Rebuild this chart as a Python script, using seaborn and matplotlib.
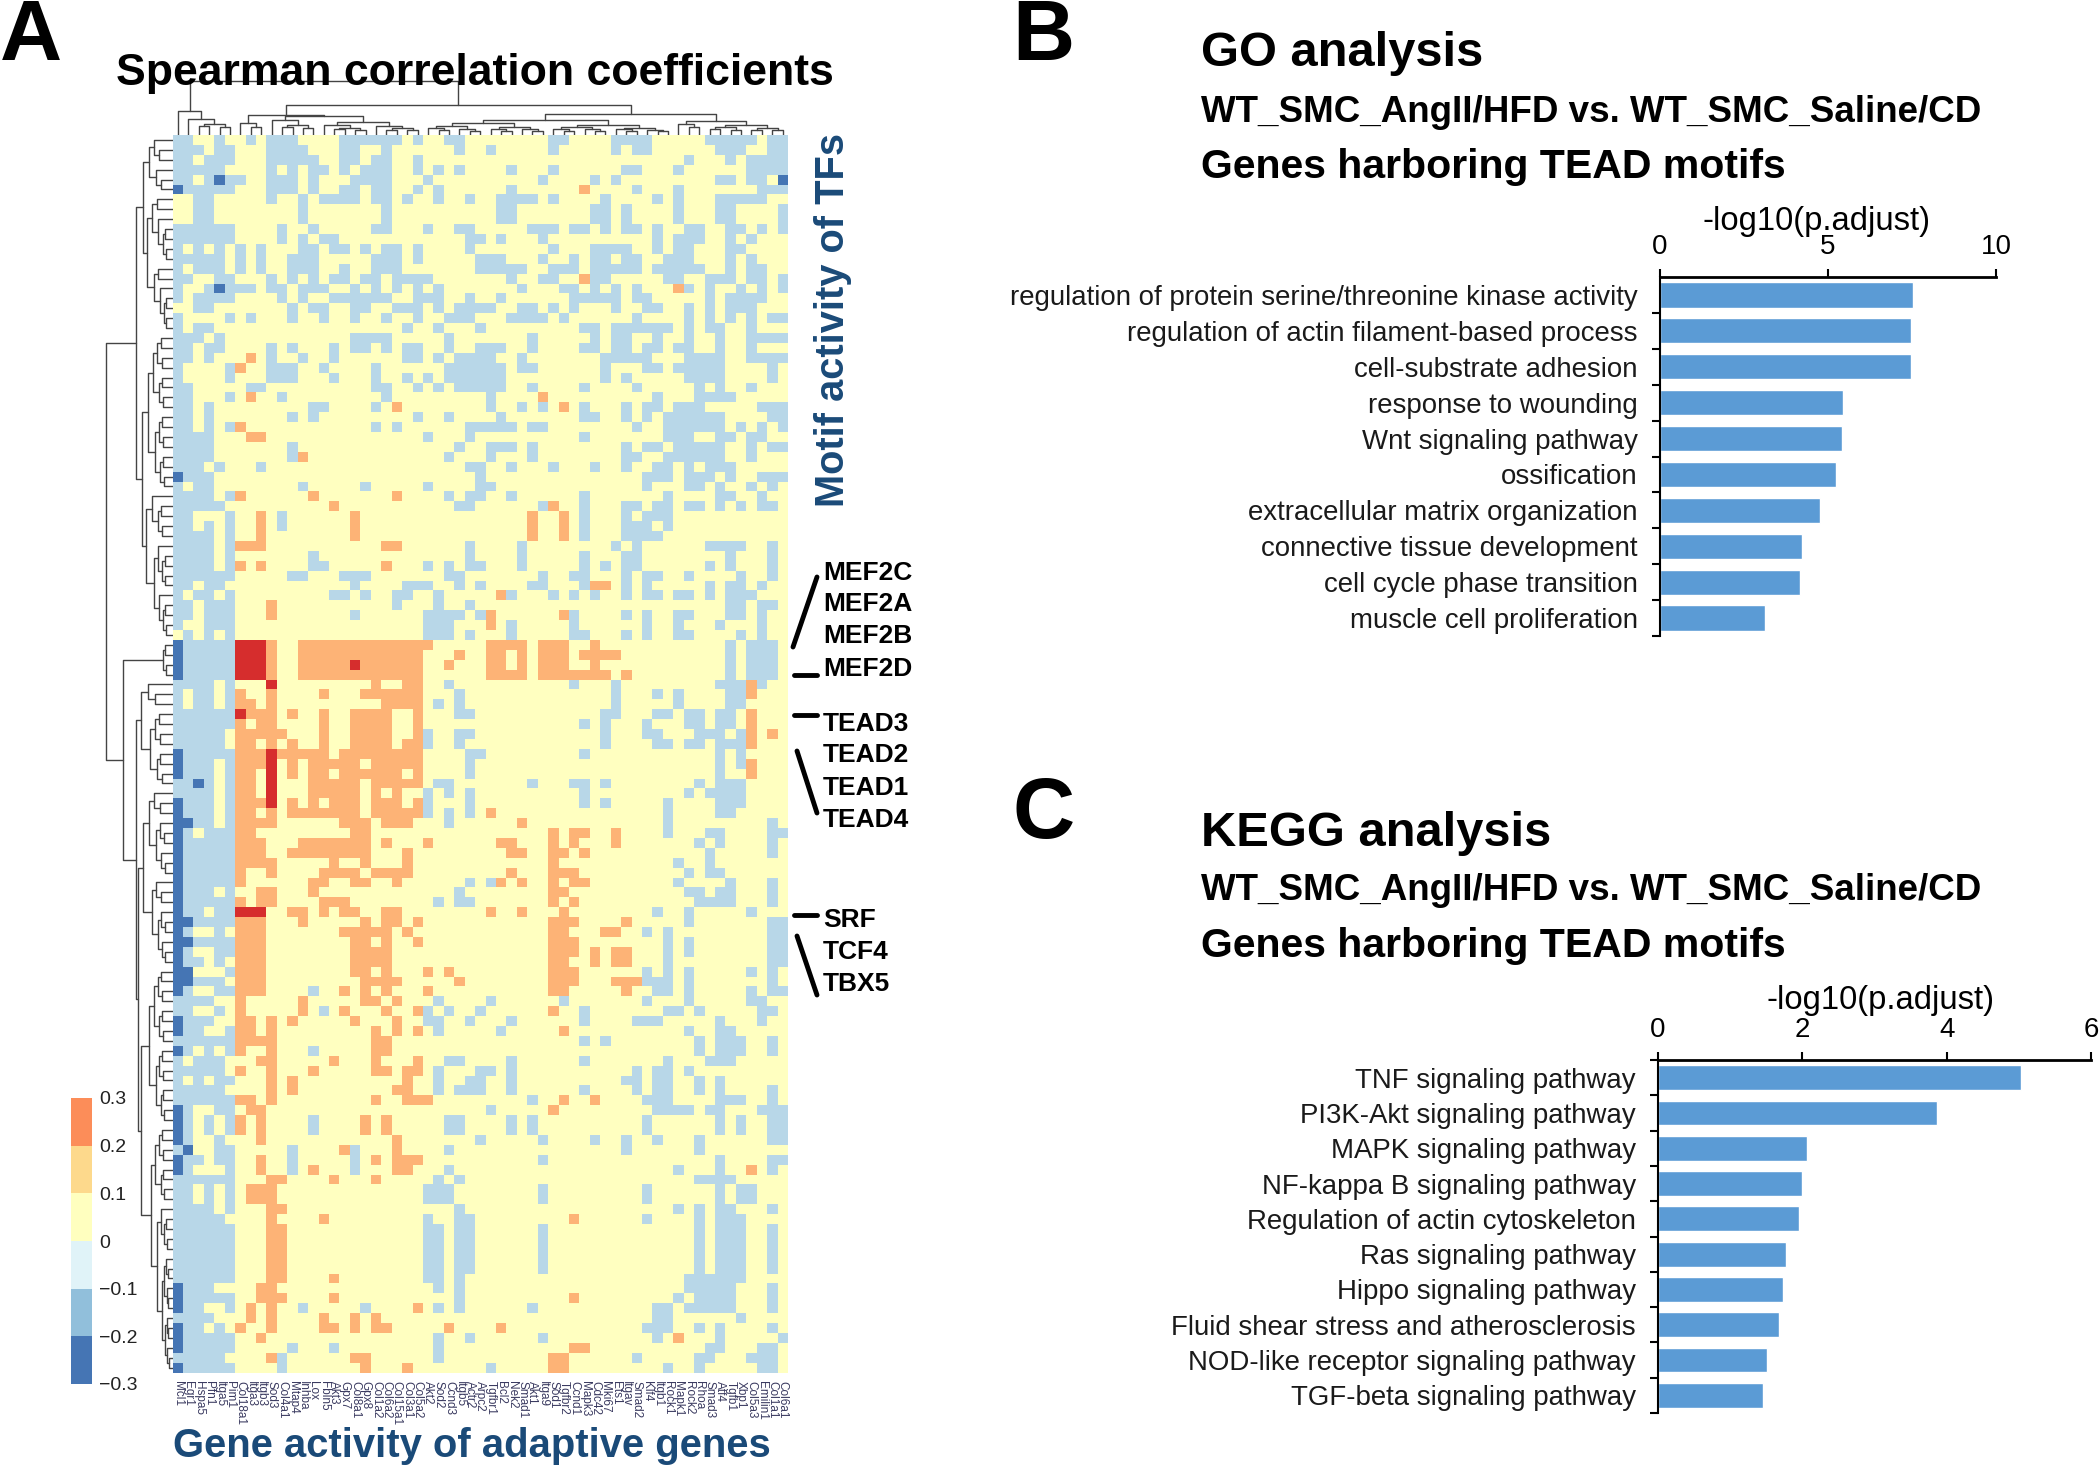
import numpy as np
import pandas as pd
import seaborn as sns
import matplotlib.pyplot as plt
from matplotlib.colors import ListedColormap, BoundaryNorm

# 1. Data
genes = ['Mcl1', 'Egr1', 'Hspa5', 'Pfn1', 'Itga5', 'Pim1', 'Col18a1', 'Itga3', 'Itgb3', 'Sod3',
         'Col4a1', 'Mtap4', 'Inhba', 'Lox', 'Fbln5', 'Akt3', 'Gpx7', 'Col8a1', 'Gpx8', 'Col1a2',
         'Col6a2', 'Col15a1', 'Col3a1', 'Col5a2', 'Akt2', 'Sod2', 'Ccnd3', 'Itgb5', 'Actr2', 'Arpc2',
         'Tgfbr1', 'Bcl2', 'Nek2', 'Smad1', 'Akt1', 'Itga9', 'Sod1', 'Tgfbr2', 'Ccnd1', 'Mapk3',
         'Cdc42', 'Mki67', 'Ets1', 'Itgav', 'Smad2', 'Klf4', 'Itgb1', 'Rock1', 'Mapk1', 'Rock2',
         'Rhoa', 'Smad3', 'Atf4', 'Tgfb1', 'Xbp1', 'Col5a3', 'Emilin1', 'Col1a1', 'Col6a1']

# each row lists the columns that are not in the 0-0.1 class
# b: -0.1-0, d: below -0.1, o: 0.1-0.2, r: above 0.2
heat_rows = [
    'b0-1,4,7,9-11,16-21,23,26-27,36-37,42-45,51-55,57-58',
    'b0-2,4-5,9-12,16-17,20,27,30,36,42,44-45,52-54,57-58',
    'b0-1,3-5,9-13,16-17,19-20,23,49,53,55-58',
    'b0-4,9,11,13-14,16,18-20,23,25,27,32,36,43-44,48,55-58',
    'b0-1,3,5-6,9-11,13,17-20,24,35,40,42,52-53,55-56 d4,58',
    'd0 b1-5,9-11,13,16-17,19-20,23,25,32,44,48,56-58 o39',
    'b2-3,9,12,14-17,19-20,22,25,28,31-34,36,41,46,48,52-56',
    'b2-3,12,20,31-32,40-41,43,48,52-53,58',
    'b2-3,12,20,31-32,40-41,43,48,52-53,58',
    'b0-5,10,13,19-20,24,27-28,34-36,38-39,41,43-44,46,49-50,53-54,56,58',
    'b0-5,10,12,14-15,28-29,31,35,46,48-50,53,55',
    'b0,2,4,6,8,12-13,15-16,18,20-21,23,28,36,40-43,46,48-49,53-54',
    'b0-4,6,8,11-13,19-21,23,29-31,35,38,40-41,43-44,47-49,53,55',
    'b0,2-4,6,8,11-13,16,19-21,29-33,36-38,40-44,46-50,53,55-56',
    'b0-1,4-5,9,11,13,15-16,18-19,21-24,32,35-36,40-41,47-48,51-53,55-56,58 o39',
    'b0,3,5-7,9-10,12-14,17,19,21,23,25,33,37-38,40,42,44,49,51,54,56,58 d4 o48',
    'b0,2-5,10,12,15-20,23-25,28,31,38-42,44-45,51,53-56',
    'b2-3,11,13-14,17-18,21-23,25,27-30,33-34,36,38,42,45-46,49,51,53-55',
    'b0,5,7,11,14,17,20,23,26-28,32-35,37,44,49,51,53,55,57-58',
    'b0,2-3,22,25,29,39-40,42-47,49,51-52,55',
    'b0-2,4,17-20,26,34,40,42-43,46,49,52,55-58',
    'b0-1,3-4,9,11,15,17-18,20,22-23,26,29-31,34,39-40,42-43,45-46,48-49,52,55',
    'b0-1,3,9,12,15,22-23,25,27-30,33,41-45,49-52,55-58 o7',
    'b0,5,9-11,14,19,26-31,33-34,41,45-46,48-52,57 o6',
    'b0,5,9-11,15,19,22,24,26-31,41,43,49-52,57',
    'b0-1,7-8,19-20,23,25,27-31,34,39,44,50,52,55',
    'b0-1,5,10,20,30,46,50-53 o7,35',
    'b0-1,3,13-14,19,30,33,35,39,43,45-46,48-50,56-58 o21,37',
    'b0-1,3,11,13,23,26,31,39-40,43,45,47-52,57-58',
    'b0-1,3,5,19,21,28-32,34-35,44,47-52,54,56,58 o6',
    'b0-3,24,28,39,47-49,52-53,55-56 o7-8',
    'b0-3,11,27,30-32,34,43,45-46,48-52,55,57-58',
    'b0-3,11,26,30,34,43-44,47-52,55 o12',
    'b0-2,4,8,28-29,32,36,40,43,46-47,49,51-53',
    'd0 b1-3,29,45-47,49-51,53,56-58',
    'b0,2-3,12,18,24,29-30,45,49-50,52,55,57',
    'b0-3,5,26,28-29,32,39,47,52-53,56 o6,13,21',
    'b0-4,27-28,35,39,43-44,46-47,49-50,52,54,56-57 o15,36',
    'b0-1,5,10,39,43,45-47 o8,17,34,37',
    'b0-1,3,5,10,39,43-45,47 o8,17,34,37',
    'b0-3,5,39,43-46 o8,17,34,37',
    'b0-3,5,28,33,42,44,51-54,57 o6-8,20-21',
    'b0-3,5,13,28,33,39,43-44,53,57',
    'b0-3,5,13-14,24,26,28-29,33,39,41,43-44,51,53,57 o6,8,20',
    'b0-5,11-12,16-18,26-27,35,38-39,43,45-46,49,54,57',
    'b0-1,3-4,17,22-24,27,29,34-35,39,43,45,51,53-54,56 o40-41',
    'b0,2-3,5,15-16,18,21-22,25,32,36,38,40,43,45-46,48-49,51,53-55 o31',
    'b0-1,3-5,21,25,28,53-54,56-57 o9',
    'b0-1,3-5,17,24-27,29,38,43,45,48-49,53-54,56 o9,30,37',
    'b0,3-5,24-26,32,38,45,48,52,56 o30',
    'b1,3,5,24-26,28,32,38-39,43,45,48-49,54,56',
    'd0 b1-5,53,55-57 r6-8 o9,12-24,30-33,35-37,40',
    'd0 b1-5,53,55-57 r6-8 o9,12-23,27,30-31,33,35-37,39-42',
    'd0 b1-5,53,55-57 r6-8,17 o9,12-16,18-23,26,30-31,33,35-37,40',
    'd0 b1-5,53,55-57 r6-8 o9,12-23,30-33,35-41,43',
    'b0-3,5,26,38,42,52-54,56 r9 o19,22-23,55',
    'b0,2-3,5,27,42,46,48,53-54 o6,9,14,18-23,55',
    'b0,2-3,5,25,27,42,48,53-54 o6-7,9,20-23',
    'b0-5,27-28,41-42,46-47,49-50,52-53 r6 o7-9,11,14,17-20,23,55',
    'b0-5,39,41,45,49-50,52-53 o6,8-9,14,17-20,23,55',
    'b0-4,24,27-28,41,45-46,50-52,54 o6-10,14,17-20,23,55,57',
    'b0-4,24,27,41,46-47,49-50,52-54 o6-7,9,11,14,17-20,22-23,55',
    'd0 b1-5,28-29,39,52,54 o6-8,10-14,16-23 r9',
    'd0 b1-3,5,28,52,54 o6-8,11,13-17,19-23,55 r9',
    'd0 b1-3,5,28,52 o6-7,11,13-14,16-21,23,55 r9',
    'b0-1,3,5,25-26,34,38-39,41,50,52-54 d2 o6-7,13-17,19-23 r9',
    'b0-3,5,24,26,28,39,49,51-54 o6-7,13-17,19,21 r9',
    'd0 b1-3,5,24,28,39,41,47,52-54 o6-8,11,13,15-17,19-21,23 r9',
    'd0 b1-3,5,24,26,28,47,52-53 o6-7,9,11-17,19-23,30',
    'd0-1 b2-3,5,26,47,57 o6-9,16-18,20-22,33',
    'd0 b1,3-5,47,51-52,57-58 o6-7,17-18,36,38-39,42',
    'd0 b1-5,50,52,57 o6-8,12-18,20,24,31-32,36,38,42',
    'd0 b1-5,51,57 o6-8,11-18,22,32-33,36-37,39',
    'd0 b1-5,48,51 o6-9,15,18,22,36',
    'd0 b1-5,49,51-52 o6,9,14-17,19-22,32,36-38',
    'd0 b1-5,28,30,48,53,57 o6,13-14,17-18,21,31,33,36,38-39',
    'd0 b1-3,5,27,49-50,52-53,57 o8-9,13,36-37',
    'd0 b1-5,25,27-28,50-53,57 o6,8-9,14-16,36,38',
    'd0 b1-2,4-5,46,49,55 r6-8 o11-12,14,16-17,20-21,30,33,37',
    'd0-1 b2-5,49,57-58 o6-8,12,18,20-21,23,36-38,43',
    'd0 b1,4,45,47,57-58 o6-8,16-20,22,36-37,41-42',
    'd0-1 b2-5,47,49,57-58 o6-8,17-18,20,23,36-38',
    'd0 b1,4-5,47,49,57-58 o6-8,17-20,36-38,40,42-43',
    'd0 b1-2,4,47,57-58 o6-8,17-20,36-37,40,42-43',
    'd0-1 b5,45,47,49,55,57 o6-8,17-18,20,24,26,36-38',
    'd0-1 b2-4,45-47,49,57 o6-8,18-21,27,36-38,42-44',
    'd0 b1,4-5,13,46-47,49,55,57-58 o6-8,16,18,20,24,36-37,43',
    'b0-3,25,30,37,45,49,55-56 o6,12,18-19,21',
    'b0-1,4,14,24,26,29,39,47-48,50,56-57 o6,12,16,20,23,36',
    'd0 b1-3,24-25,28,32,39,44-46,52,56 o6-7,9,11,17,21',
    'd0 b1-2,5,25,31,49,52-53 o6-7,9,19,21,23,37',
    'b0-5,39,41,50,52-54,57 o6-9,19-20',
    'd0 b1,3,5,13,50,52-54,57 o6,9,19-20',
    'b0,2-4,26-27,32,39,47,51-53 o8-9,15,19,23',
    'b0-4,25,29-30,32,44,46-47,49 o6,9,13,19-20,22-23',
    'b0,2,4-5,25,28-29,32,43-44,46-47,50,52 o9,11,22',
    'b0-4,25,27-29,32,39,44,46-47,50,52,57 o9,11,21-22',
    'b0-5,34,45-47,52-54,57 o6-7,9,19,22-24,37,40',
    'd0 b1,4-5,30,46-49,51-52,56-58 o7-8,36',
    'd0 b1,3,5,13,26-27,32,34,45,52,54,57-58 o6,8,18,20',
    'd0 b1,3,5,13,26-27,32,34,45,52,54,57-58 o6,8,18,20',
    'd0 b1,4,29,35,40,43,46,50,57-58 o8,21',
    'b0,4-5,11,17,26,43,50 d1 o16,21',
    'd0 b1-2,4-5,11,17,35,52,57-58 o8,19,21-23',
    'd0 b1,5,11,17,26,48,52,57 o8,13,21-22,55',
    'b0-5,25,27,50-53 o9-10,15,19',
    'b0-1,3,5,24-26,35,45,52,54-55 o7-9',
    'b0-1,3,5,24-26,35,45,52,54-55 o7-9',
    'b0-3,5,27,48,50,52-53,57 o9-10',
    'b0-4,24,27-28,45,50,52-54 o9,14,38',
    'b0-5,24-25,27-28,35,50,52-54,57 o9-10',
    'b0-5,24-25,27-28,35,50,52-54,57 o9-10',
    'b0-5,24-25,27-28,35,50,52-54,57 o9-10',
    'b0-5,24-25,27-28,35,50,52-54,57 o9-10',
    'b0-5,24-25,27-28,35,50,52-54,57 o9-10',
    'b0-5,24-25,27,49-54 o9-10,15',
    'd0 b1-3,25,27,49-53,57 o8-9',
    'd0 b1-5,27,48,50-53,57 o8-10,15,38',
    'd0 b1-2,5,12,18,25,27,34,46-47,49-53,57 o7,9,23',
    'b0-3,46-47,54 o7,9,14,17,19',
    'd0 b1-2,4,45-47,50,52,57 o6,9,14-15,17,19-20,26,31',
    'd0 b1-5,25,28,35,46,52,58 o8,48',
    'd0 b1-5,11,15,25,51-52,56-57 o38-39',
    'b0-4,10,25,44,50-51,55-57 o9,17-18,36-37',
    'd0 b1-5,10,30,47,50,56-57 o18,22,36-37',
]
class_values = {'b': -0.05, 'd': -0.15, 'o': 0.15, 'r': 0.25}
heat_colors = ['#4575B4', '#B8D7E8', '#FFFFC0', '#FDB376', '#D62D2D']
heat_bounds = [-0.2, -0.1, 0, 0.1, 0.2, 0.3]

cbar_values = [0.25, 0.15, 0.05, -0.05, -0.15, -0.25]
cbar_colors = ['#4575B4', '#91BFDB', '#E0F3F8', '#FFFFBF', '#FDD98C', '#FC8D59']
cbar_labels = ['0.3', '0.2', '0.1', '0', '\u22120.1', '\u22120.2', '\u22120.3']

go_terms = ['regulation of protein serine/threonine kinase activity', 'regulation of actin filament-based process',
            'cell-substrate adhesion', 'response to wounding', 'Wnt signaling pathway', 'ossification',
            'extracellular matrix organization', 'connective tissue development', 'cell cycle phase transition',
            'muscle cell proliferation']
go_values = [7.53, 7.47, 7.47, 5.44, 5.42, 5.25, 4.75, 4.23, 4.18, 3.12]
kegg_terms = ['TNF signaling pathway', 'PI3K-Akt signaling pathway', 'MAPK signaling pathway',
              'NF-kappa B signaling pathway', 'Regulation of actin cytoskeleton', 'Ras signaling pathway',
              'Hippo signaling pathway', 'Fluid shear stress and atherosclerosis',
              'NOD-like receptor signaling pathway', 'TGF-beta signaling pathway']
kegg_values = [5.03, 3.87, 2.06, 1.99, 1.95, 1.78, 1.73, 1.67, 1.51, 1.46]

tf_labels = ['MEF2C', 'MEF2A', 'MEF2B', 'MEF2D', 'TEAD3', 'TEAD2', 'TEAD1', 'TEAD4', 'SRF', 'TCF4', 'TBX5']
tf_label_rows = [44.2, 47.4, 50.6, 53.9, 59.45, 62.65, 65.95, 69.15, 79.3, 82.5, 85.75]

# dendrograms: [height in px, left, right], or [height, n] for a small cluster of n leaves
row_tree = [67,
            [37, [30, [24, 6], [26, 14]], [31, [25, 16], [27, 15]]],
            [50, [10, 4], [37, [32, 11], [35, [30, 18], [32, [24, 16], [22, 25]]]]]]
col_tree = [54,
            [24, [10, 1], [16, 5]],
            [30, [20, [12, 3], [19, 15]], [21, [15, 24], [14, 11]]]]

sns.set_theme(style='white')
plt.rcParams['font.family'] = ['Liberation Sans', 'DejaVu Sans']
plt.rcParams['text.color'] = 'black'
plt.rcParams['axes.labelcolor'] = 'black'
plt.rcParams['xtick.color'] = 'black'
plt.rcParams['ytick.color'] = 'black'
W, H = 2100, 1465
navy = '#1A4A78'

fig = plt.figure(figsize=(W / 100, H / 100), dpi=100, facecolor='white')


def px_axes(x0, y0, x1, y1):
    return fig.add_axes([x0 / W, 1 - y1 / H, (x1 - x0) / W, (y1 - y0) / H])


def px_text(x, y, s, **kw):
    kw.setdefault('va', 'center')
    return fig.text(x / W, 1 - y / H, s, **kw)


def parse_row(row):
    vals = np.full(len(genes), 0.05)
    for token in row.split():
        for part in token[1:].split(','):
            a, _, b = part.partition('-')
            vals[int(a):int(b or a) + 1] = class_values[token[0]]
    return vals


def layout(node, start, segs):
    # returns centre, height and next free leaf position
    if isinstance(node, int):
        return start + 0.5, 0, start + 1
    if len(node) == 2 and isinstance(node[1], int):
        h, n = node
        if n == 1:
            return start + 0.5, 0, start + 1
        k = n // 2 if n % 2 == 0 or n < 4 else n // 3
        child = [[h * 0.78, k], [h * 0.7, n - k]]
        if n == 2:
            child = [1, 1]
        node = [h, child[0], child[1]]
    h, left, right = node
    c0, h0, start = layout(left, start, segs)
    c1, h1, start = layout(right, start, segs)
    segs.append(([h0, h, h, h1], [c0, c0, c1, c1]))
    return (c0 + c1) / 2, h, start


# 2. Panel A heatmap
heat_df = pd.DataFrame([parse_row(r) for r in heat_rows], columns=genes)
ax_heat = px_axes(172.6, 135, 788, 1372.5)
sns.heatmap(heat_df, ax=ax_heat, cmap=ListedColormap(heat_colors), norm=BoundaryNorm(heat_bounds, 5),
            cbar=False, xticklabels=True, yticklabels=False)
ax_heat.set_xticks(np.arange(len(genes)) + 0.5)
ax_heat.set_xticklabels(genes, rotation=270, fontsize=8.5, color='#3A3A60')
ax_heat.tick_params(axis='x', length=0, pad=6)

segs = []
layout(row_tree, 0, segs)
ax_den = px_axes(100, 135, 172.6, 1372.5)
for hs, cs in segs:
    ax_den.plot(hs, cs, color='#444444', lw=1)
ax_den.set_xlim(72.6, 0)
ax_den.set_ylim(len(heat_rows), 0)
ax_den.axis('off')

segs = []
layout(col_tree, 0, segs)
ax_top = px_axes(172.6, 75, 788, 135)
for hs, cs in segs:
    ax_top.plot(cs, hs, color='#444444', lw=1)
ax_top.set_xlim(0, len(genes))
ax_top.set_ylim(0, 60)
ax_top.axis('off')

# colour key
ax_key = px_axes(71, 1098, 92, 1384)
sns.heatmap(np.array(cbar_values).reshape(-1, 1), ax=ax_key, cmap=ListedColormap(cbar_colors),
            norm=BoundaryNorm([-0.3, -0.2, -0.1, 0, 0.1, 0.2, 0.3], 6), cbar=False, xticklabels=False)
ax_key.yaxis.tick_right()
ax_key.set_yticks(np.arange(7))
ax_key.set_yticklabels(cbar_labels, rotation=0, fontsize=14, color='#222222')
ax_key.tick_params(axis='y', length=0, pad=5)

# TF labels and marker lines
for name, r in zip(tf_labels, tf_label_rows):
    px_text(823, 135 + r * 9.9, name, fontsize=19, fontweight='bold', color='black')
marker_lines = [((817, 793), (577, 647)), ((794, 817), (675, 675)), ((794, 817), (715, 715)),
                ((797, 817), (751, 813)), ((794, 817), (915, 915)), ((797, 817), (936, 995))]
for xs, ys in marker_lines:
    fig.add_artist(plt.Line2D([x / W for x in xs], [1 - y / H for y in ys], color='black', lw=3.5))

px_text(475, 73, 'Spearman correlation coefficients', ha='center', fontsize=32.1, fontweight='bold')
px_text(833, 320, 'Motif activity of TFs', rotation=90, ha='center', fontsize=28.7, fontweight='bold', color=navy)
px_text(472, 1446, 'Gene activity of adaptive genes', ha='center', fontsize=28.8, fontweight='bold', color=navy)


# 3. Panels B and C
def bar_panel(rect, terms, values, xmax, xticks, top_tick, label_x, label_pad):
    ax = px_axes(*rect)
    sns.barplot(x=values, y=terms, color='#5B9BD5', saturation=1, width=0.7, orient='h', ax=ax)
    ax.set_xlim(0, xmax)
    ax.set_ylim(len(terms) - 0.5, -0.5)
    sns.despine(ax=ax, top=False, right=True, bottom=True, left=False)
    ax.xaxis.tick_top()
    ax.xaxis.set_label_position('top')
    ax.set_xticks(xticks)
    ax.set_xlabel('-log10(p.adjust)', fontsize=23.6, labelpad=label_pad, x=label_x)
    ax.set_ylabel('')
    ax.tick_params(axis='x', length=6, width=1.5, pad=6, labelsize=20, color='black', top=True, bottom=False)
    ax.tick_params(axis='y', which='major', length=0, pad=16, labelsize=19.9, labelcolor='#1A1A1A')
    minor = np.arange(-0.5 if top_tick else 0.5, len(terms))
    ax.set_yticks(minor, minor=True)
    ax.tick_params(axis='y', which='minor', left=True, length=6, width=1.5, color='black')
    ax.spines['top'].set_linewidth(2)
    ax.spines['top'].set_color('black')
    ax.spines['left'].set_linewidth(1.5)
    ax.spines['left'].set_color('black')
    return ax


bar_panel((1660, 277, 1996, 636), go_terms, go_values, 10, [0, 5, 10], False, 0.466, 3)
bar_panel((1658, 1060, 2091, 1413), kegg_terms, kegg_values, 6, [0, 2, 4, 6], True, 0.514, 6)

for y, s, size in [(54, 'GO analysis', 35.2), (113, 'WT_SMC_AngII/HFD vs. WT_SMC_Saline/CD', 26.5),
                   (167, 'Genes harboring TEAD motifs', 29.5), (833, 'KEGG analysis', 35.2),
                   (891, 'WT_SMC_AngII/HFD vs. WT_SMC_Saline/CD', 26.5), (946, 'Genes harboring TEAD motifs', 29.5)]:
    px_text(1201, y, s, fontsize=size, fontweight='bold')

px_text(0, 38, 'A', fontsize=62, fontweight='bold')
px_text(1012, 38, 'B', fontsize=62, fontweight='bold')
px_text(1012, 816, 'C', fontsize=62, fontweight='bold')

fig.savefig('out.png', dpi=100)
